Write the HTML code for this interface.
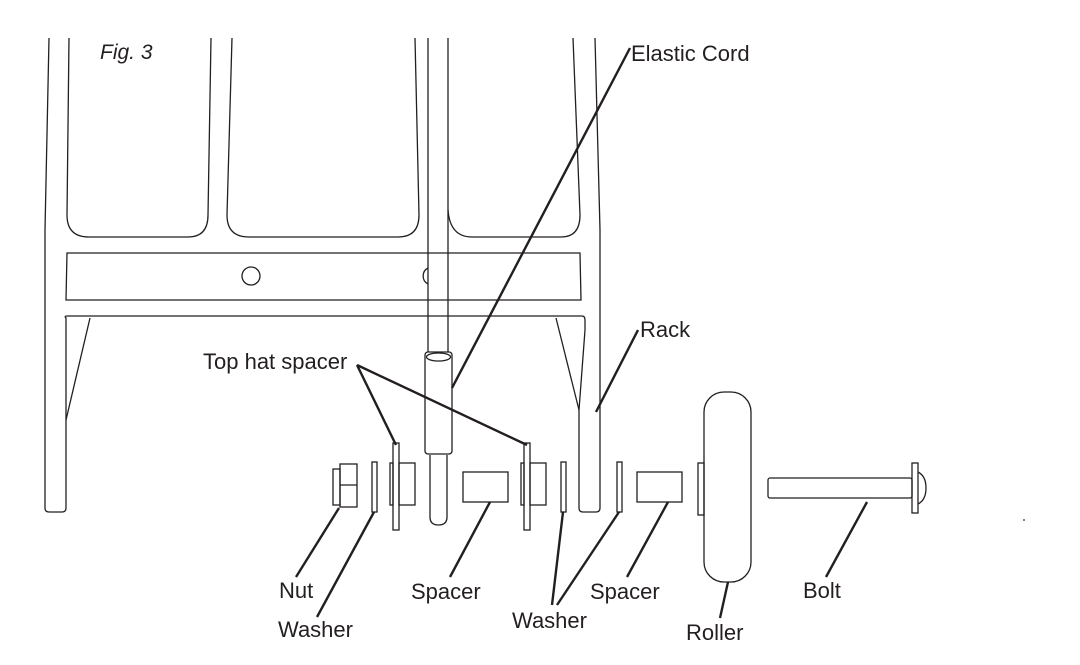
<!DOCTYPE html>
<html><head><style>
html,body{margin:0;padding:0;background:#fff;}
svg{display:block;}
text{font-family:"Liberation Sans",sans-serif;font-size:22px;fill:#231f20;}
</style></head><body>
<svg width="1080" height="665" viewBox="0 0 1080 665" xmlns="http://www.w3.org/2000/svg">
<g fill="none" stroke="#231f20" stroke-width="1.3">
<!-- left leg -->
<path d="M49 38 L45 230 L45 508 Q45 512 49 512 L62 512 Q66 512 66 508 L66 320"/>
<path d="M69 38 L67 215 Q67 237 89 237 L188 237 Q208 237 208 215 L211 38"/>
<!-- middle panel -->
<path d="M232 38 L227 215 Q227 237 249 237 L398 237 Q419 237 419 215 L415 38"/>
<!-- right panel -->
<path d="M448 210 Q450 237 472 237 L561 237 Q580 237 580 215 L573 38"/>
<path d="M595 38 L600 230 L600 508 Q600 512 596 512 L583 512 Q579 512 579 508 L579 410"/>
<!-- cross bar -->
<path d="M67 253 L580 253 L581 300 L66 300 Z"/>
<circle cx="251" cy="276" r="9"/>
<path d="M428 268 A9 9 0 0 0 428 284"/>
<!-- lower bar -->
<path d="M66 320 L66 318 Q64 316 67 316 L582 316 Q585 316 585 320 L585 330 L579 410"/>
<path d="M90 318 L66 420"/>
<path d="M556 318 L579 410"/>
<!-- rod -->
<path d="M428 38 L428 360 M448 38 L448 360" fill="none"/>
<rect x="425" y="352" width="27" height="102" rx="3" fill="#fff"/>
<ellipse cx="438.5" cy="357" rx="12" ry="4"/>
<path d="M430 455 L430 517 Q430 525 438.5 525 Q447 525 447 517 L447 455"/>
<!-- nut -->
<rect x="333" y="469" width="7" height="36"/>
<rect x="340" y="464" width="17" height="43"/>
<path d="M340 485 L357 485"/>
<!-- washer1 -->
<rect x="372" y="462" width="5" height="50"/>
<!-- top hat 1 -->
<rect x="393" y="443" width="6" height="87"/>
<rect x="390" y="463" width="3" height="42"/>
<rect x="399" y="463" width="16" height="42"/>
<!-- spacer1 -->
<rect x="463" y="472" width="45" height="30"/>
<!-- top hat 2 -->
<rect x="524" y="443" width="6" height="87"/>
<rect x="521" y="463" width="3" height="42"/>
<rect x="530" y="463" width="16" height="42"/>
<!-- washers -->
<rect x="561" y="462" width="5" height="50"/>
<rect x="617" y="462" width="5" height="50"/>
<!-- spacer2 -->
<rect x="637" y="472" width="45" height="30"/>
<!-- roller -->
<rect x="698" y="463" width="6" height="52"/>
<rect x="704" y="392" width="47" height="190" rx="20"/>
<!-- bolt -->
<rect x="768" y="478" width="144" height="20" rx="2"/>
<rect x="912" y="463" width="6" height="50"/>
<path d="M918 472 Q926 476 926 488 Q926 500 918 504"/>
</g>
<g stroke="#231f20" stroke-width="2.4" fill="none">
<path d="M630 48 L452 388"/>
<path d="M638 330 L596 412"/>
<path d="M357 365 L396 445 M357 365 L527 445"/>
<path d="M296 577 L339 508"/>
<path d="M317 617 L374 512"/>
<path d="M450 577 L490 502"/>
<path d="M552 605 L563 512 M557 605 L619 512"/>
<path d="M627 577 L668 502"/>
<path d="M720 618 L728 582"/>
<path d="M826 577 L867 502"/>
</g>
<circle cx="1024" cy="520" r="1" fill="#555"/>
<text x="100" y="59" font-style="italic" style="font-size:21px">Fig. 3</text>
<text x="631" y="61">Elastic Cord</text>
<text x="640" y="337">Rack</text>
<text x="203" y="369">Top hat spacer</text>
<text x="279" y="598">Nut</text>
<text x="278" y="637">Washer</text>
<text x="411" y="599">Spacer</text>
<text x="512" y="628">Washer</text>
<text x="590" y="599">Spacer</text>
<text x="686" y="640">Roller</text>
<text x="803" y="598">Bolt</text>
</svg>
</body></html>
